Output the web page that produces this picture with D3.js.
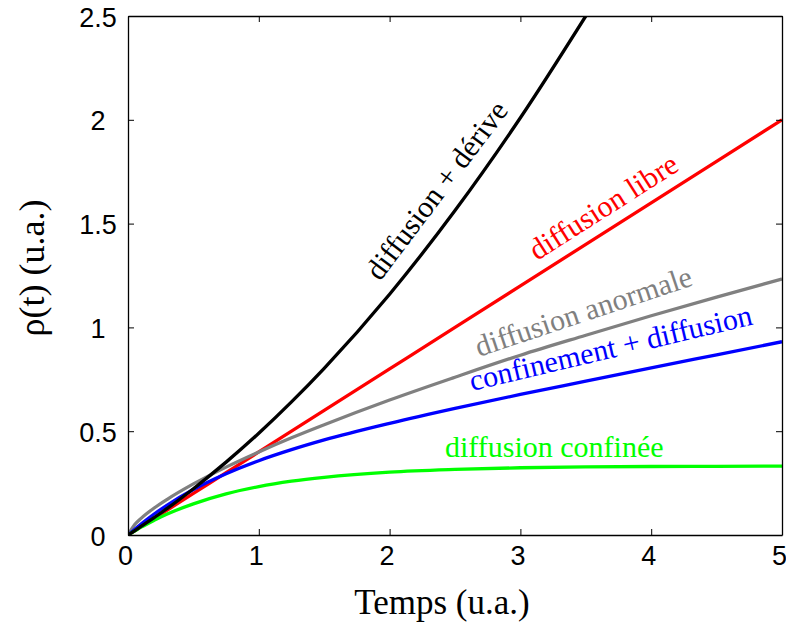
<!DOCTYPE html>
<html>
<head>
<meta charset="utf-8">
<script src="https://cdn.jsdelivr.net/npm/d3@7"></script>
<style>
  html, body { margin: 0; padding: 0; background: #fff; }
  svg { display: block; }
</style>
</head>
<body>
<svg id="chart" width="786" height="624"></svg>
<script>
// ---- data ----
const timeFull  = [0, 0.05, 0.1, 0.2, 0.3, 0.5, 0.75, 1, 1.25, 1.5, 2, 2.5, 3, 3.5, 4, 4.5, 5];
const timeDrift = [0, 0.05, 0.1, 0.2, 0.3, 0.5, 0.75, 1, 1.25, 1.5, 2, 2.5, 3, 3.5];

const libre      = [0, 0.020, 0.040, 0.080, 0.120, 0.200, 0.300, 0.400, 0.500, 0.600, 0.800, 1.000, 1.200, 1.400, 1.600, 1.800, 2.000];
const anormale   = [0, 0.049, 0.080, 0.130, 0.172, 0.246, 0.327, 0.400, 0.468, 0.531, 0.650, 0.760, 0.866, 0.962, 1.056, 1.146, 1.233];
const confDiff   = [0, 0.027, 0.053, 0.101, 0.144, 0.219, 0.295, 0.358, 0.411, 0.458, 0.538, 0.610, 0.677, 0.741, 0.805, 0.868, 0.931];
const confinee   = [0, 0.019, 0.038, 0.071, 0.101, 0.150, 0.198, 0.233, 0.259, 0.278, 0.303, 0.316, 0.324, 0.328, 0.330, 0.331, 0.332];
const derive     = [0, 0.020, 0.041, 0.084, 0.128, 0.223, 0.351, 0.490, 0.641, 0.803, 1.160, 1.563, 2.010, 2.500];

const xTicks = [0, 1, 2, 3, 4, 5];
const yTicks = [0, 0.5, 1, 1.5, 2, 2.5];
const yTickLabels = ["0", "0.5", "1", "1.5", "2", "2.5"];

const seriesNames  = ["diffusion libre", "diffusion anormale", "confinement + diffusion", "diffusion confinée", "diffusion + dérive"];
const seriesColors = ["#ff0000", "#808080", "#0000ff", "#00ff00", "#000000"];

// ---- layout ----
const svg = d3.select("#chart");
const x = d3.scaleLinear().domain([0, 5]).range([128, 782]);
const y = d3.scaleLinear().domain([0, 2.5]).range([535, 16]);

svg.append("defs").append("clipPath").attr("id", "clip")
  .append("rect").attr("x", 128).attr("y", 16).attr("width", 654).attr("height", 519);

const series = [
  { name: seriesNames[0], color: seriesColors[0], t: timeFull,  v: libre },
  { name: seriesNames[1], color: seriesColors[1], t: timeFull,  v: anormale },
  { name: seriesNames[2], color: seriesColors[2], t: timeFull,  v: confDiff },
  { name: seriesNames[3], color: seriesColors[3], t: timeFull,  v: confinee },
  { name: seriesNames[4], color: seriesColors[4], t: timeDrift, v: derive }
];

const line = d3.line().x(d => x(d[0])).y(d => y(d[1])).curve(d3.curveMonotoneX);

const gLines = svg.append("g").attr("clip-path", "url(#clip)");
series.forEach(s => {
  gLines.append("path")
    .datum(s.t.map((t, i) => [t, s.v[i]]))
    .attr("d", line)
    .attr("fill", "none")
    .attr("stroke", s.color)
    .attr("stroke-width", 3.3)
    .attr("stroke-linejoin", "round");
});

// ---- axes (box with inward ticks mirrored) ----
const tickLen = 6;
const axB = d3.axisBottom(x).tickValues(xTicks).tickSizeInner(-tickLen).tickSizeOuter(0).tickFormat(d3.format("d"));
const axT = d3.axisTop(x).tickValues(xTicks).tickSizeInner(-tickLen).tickSizeOuter(0).tickFormat("");
const axL = d3.axisLeft(y).tickValues(yTicks).tickSizeInner(-tickLen).tickSizeOuter(0).tickFormat((d, i) => yTickLabels[i]);
const axR = d3.axisRight(y).tickValues(yTicks).tickSizeInner(-tickLen).tickSizeOuter(0).tickFormat("");

function styleAxis(g) {
  g.selectAll("path.domain").attr("stroke", "#000").attr("stroke-width", 1.3);
  g.selectAll(".tick line").attr("stroke", "#000").attr("stroke-width", 1);
  g.selectAll(".tick text").attr("fill", "#000")
    .attr("font-family", "'Liberation Sans', Arial, Helvetica, sans-serif")
    .attr("font-size", 27);
}

const gB = svg.append("g").attr("transform", "translate(0,535)").call(axB).call(styleAxis);
gB.selectAll(".tick text").attr("dy", null).attr("y", 30).attr("dx", -3);
svg.append("g").attr("transform", "translate(0,16)").call(axT).call(styleAxis);
const gL = svg.append("g").attr("transform", "translate(128,0)").call(axL).call(styleAxis);
gL.selectAll(".tick text").attr("text-anchor", "middle").attr("x", -30).attr("dy", null).attr("y", 10);
svg.append("g").attr("transform", "translate(782,0)").call(axR).call(styleAxis);

// ---- axis titles ----
svg.append("text")
  .attr("x", 442).attr("y", 614)
  .attr("text-anchor", "middle")
  .attr("font-family", "'Liberation Serif', 'Times New Roman', serif")
  .attr("font-size", 35)
  .text("Temps (u.a.)");

svg.append("text")
  .attr("transform", "translate(44,268) rotate(-90)")
  .attr("text-anchor", "middle")
  .attr("font-family", "'Liberation Serif', 'Times New Roman', serif")
  .attr("font-size", 36)
  .text("ρ(t) (u.a.)");

// ---- curve labels ----
const labelPos = [
  { x: 537, y: 261, a: -32.5 },
  { x: 479, y: 357, a: -18.5 },
  { x: 472, y: 391, a: -13.3 },
  { x: 445, y: 457, a: 0 },
  { x: 380, y: 282, a: -53 }
];
series.forEach((s, i) => {
  const p = labelPos[i];
  svg.append("text")
    .attr("transform", `translate(${p.x},${p.y}) rotate(${p.a})`)
    .attr("font-family", "'Liberation Serif', 'Times New Roman', serif")
    .attr("font-size", 30)
    .attr("fill", s.color)
    .text(s.name);
});
</script>
</body>
</html>
